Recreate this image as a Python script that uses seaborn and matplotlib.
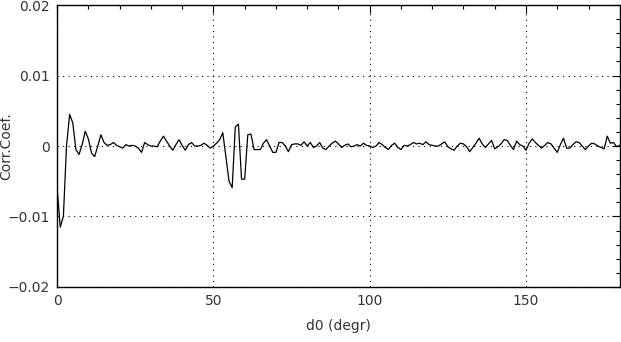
import matplotlib
matplotlib.use("Agg")
import matplotlib.pyplot as plt
import numpy as np
import pandas as pd
import seaborn as sns
from matplotlib.ticker import FixedLocator, MultipleLocator, FuncFormatter

# Data: correlation coefficient per degree
angle = list(range(0, 181))
corr = [
    -0.0060, -0.0115, -0.0100, 0.0000, 0.0045, 0.0033, -0.0005, -0.0012, 0.0002, 0.0021,
    0.0010, -0.0010, -0.0015, 0.0000, 0.0016, 0.0005, 0.0001, 0.0002, 0.0005, 0.0001,
    -0.0001, -0.0003, 0.0002, 0.0000, 0.0001, 0.0000, -0.0003, -0.0009, 0.0005, 0.0002,
    0.0000, 0.0000, -0.0001, 0.0007, 0.0014, 0.0007, 0.0000, -0.0006, 0.0002, 0.0009,
    0.0001, -0.0006, 0.0002, 0.0005, 0.0000, 0.0000, 0.0001, 0.0004, 0.0001, -0.0003,
    0.0000, 0.0004, 0.0009, 0.0019, -0.0015, -0.0050, -0.0059, 0.0027, 0.0031, -0.0047,
    -0.0047, 0.0016, 0.0017, -0.0005, -0.0005, -0.0005, 0.0004, 0.0009, 0.0000, -0.0009,
    -0.0009, 0.0005, 0.0005, 0.0000, -0.0008, 0.0002, 0.0003, 0.0003, 0.0001, 0.0006,
    0.0000, 0.0005, -0.0002, 0.0000, 0.0005, -0.0003, -0.0005, 0.0000, 0.0004, 0.0007,
    0.0003, -0.0002, 0.0001, 0.0003, -0.0001, 0.0000, 0.0002, 0.0000, 0.0004, 0.0001,
    0.0000, -0.0002, 0.0000, 0.0005, 0.0002, -0.0002, -0.0005, 0.0001, 0.0004, -0.0002,
    -0.0005, 0.0001, 0.0000, 0.0002, 0.0005, 0.0003, 0.0004, 0.0002, 0.0006, 0.0002,
    0.0001, 0.0000, 0.0000, 0.0003, 0.0006, -0.0001, -0.0004, -0.0006, 0.0000, 0.0004,
    0.0003, -0.0001, -0.0008, -0.0002, 0.0004, 0.0011, 0.0003, -0.0002, 0.0003, 0.0008,
    -0.0004, -0.0001, 0.0003, 0.0009, 0.0008, 0.0001, -0.0005, 0.0007, 0.0002, 0.0000,
    -0.0006, 0.0004, 0.0010, 0.0005, 0.0001, -0.0003, 0.0001, 0.0005, 0.0003, -0.0003,
    -0.0009, 0.0002, 0.0011, -0.0003, -0.0003, 0.0002, 0.0006, 0.0005, 0.0000, -0.0005,
    0.0000, 0.0004, 0.0003, 0.0000, -0.0002, -0.0004, 0.0014, 0.0004, 0.0005, -0.0001,
    0.0001,
]
x_ticks = [0, 50, 100, 150]
y_ticks = [-0.02, -0.01, 0, 0.01, 0.02]

df = pd.DataFrame({"angle": angle, "corr": corr})

sns.set_style("white")
plt.rcParams["font.family"] = ["DejaVu Sans"]

fig = plt.figure(figsize=(6.21, 3.42), dpi=100)
ax = fig.add_axes([0.092, 0.161, 0.906, 0.824])

sns.lineplot(data=df, x="angle", y="corr", color="black", linewidth=0.9, ax=ax)

ax.set_xlim(0, 180)
ax.set_ylim(-0.02, 0.02)
ax.xaxis.set_major_locator(FixedLocator(x_ticks))
ax.xaxis.set_minor_locator(MultipleLocator(10))
ax.yaxis.set_major_locator(FixedLocator(y_ticks))
ax.yaxis.set_minor_locator(MultipleLocator(0.002))


def fmt(v, pos):
    if abs(v) < 1e-12:
        return "0"
    return ("%.2f" % v).replace("-", "\u2212")


ax.yaxis.set_major_formatter(FuncFormatter(fmt))

ax.grid(True, which="major", color="black", linestyle=(0, (1, 4)), linewidth=0.8)
for s in ax.spines.values():
    s.set_color("black")
    s.set_linewidth(1.0)
ax.tick_params(which="both", direction="in", top=True, right=True,
               colors="black", labelcolor="#333333", labelsize=10)
ax.tick_params(which="major", length=6, width=0.8, pad=5)
ax.tick_params(which="minor", length=3, width=0.8)

ax.set_xlabel("d0 (degr)", fontsize=10, color="#333333")
ax.set_ylabel("Corr.Coef.", fontsize=10, color="#333333")
ax.xaxis.set_label_coords(0.5, -0.113)
ax.yaxis.set_label_coords(-0.078, 0.5)

fig.savefig("out.png", dpi=100, facecolor="white")
